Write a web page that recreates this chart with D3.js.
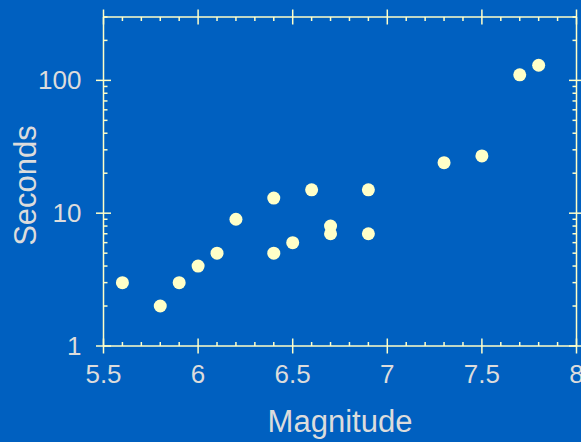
<!DOCTYPE html>
<html><head><meta charset="utf-8">
<script src="https://cdn.jsdelivr.net/npm/d3@7"></script>
<style>
html,body{margin:0;padding:0;background:#0060C0;}
svg{display:block;}
text{font-family:"Liberation Sans",Arial,sans-serif;}
</style></head>
<body>
<svg id="c" width="581" height="442"></svg>
<script>
const magnitude = [5.6,5.8,5.9,6.0,6.1,6.2,6.4,6.4,6.5,6.6,6.7,6.7,6.9,6.9,7.3,7.5,7.7,7.8];
const seconds   = [3,  2,  3,  4,  5,  9,  13, 5,  6,  15, 8,  7,  15, 7,  24, 27, 110,130];
const xTicks = [5.5,6,6.5,7,7.5,8];
const xTickLabels = ["5.5","6","6.5","7","7.5","8"];
const yTicks = [1,10,100];
const yTickLabels = ["1","10","100"];
const xTitle = "Magnitude";
const yTitle = "Seconds";

const svg = d3.select("#c");
const W=581,H=442;
const L=103.5,R=576.5,T=17,B=346;
const bg="#0060C0", axisCol="#FFFFC8", textCol="#DCDCDC", ptCol="#FFFFC8";
svg.append("rect").attr("width",W).attr("height",H).attr("fill",bg);

const x = d3.scaleLinear().domain([5.5,8]).range([L,R]);
const y = d3.scaleLog().domain([1,300]).range([B,T]);

const xMinor = d3.range(55,81).map(v=>v/10).filter(v=>!xTicks.some(t=>Math.abs(t-v)<1e-9));
const yMinor = [];
[1,10,100].forEach(d=>{for(let k=2;k<=9;k++){const v=d*k; if(v<=300) yMinor.push(v);}});

const lw=1.5, maj=7.5, mn=4;
const g = svg.append("g");

g.append("line").attr("x1",L).attr("x2",R).attr("y1",B).attr("y2",B);
g.append("line").attr("x1",L).attr("x2",R).attr("y1",T).attr("y2",T);
g.append("line").attr("x1",L).attr("x2",L).attr("y1",T).attr("y2",B);
g.append("line").attr("x1",R).attr("x2",R).attr("y1",T).attr("y2",B);

[B,T].forEach(yy=>{
  g.selectAll(null).data(xTicks).enter().append("line")
   .attr("x1",d=>x(d)).attr("x2",d=>x(d)).attr("y1",yy-maj).attr("y2",yy+maj);
});
g.selectAll(null).data(xMinor).enter().append("line")
 .attr("x1",d=>x(d)).attr("x2",d=>x(d)).attr("y1",B-mn).attr("y2",B);
g.selectAll(null).data(xMinor).enter().append("line")
 .attr("x1",d=>x(d)).attr("x2",d=>x(d)).attr("y1",T).attr("y2",T+mn);
[L,R].forEach(xx=>{
  g.selectAll(null).data(yTicks).enter().append("line")
   .attr("y1",d=>y(d)).attr("y2",d=>y(d)).attr("x1",xx-maj).attr("x2",xx+maj);
});
g.selectAll(null).data(yMinor).enter().append("line")
 .attr("y1",d=>y(d)).attr("y2",d=>y(d)).attr("x1",L).attr("x2",L+mn);
g.selectAll(null).data(yMinor).enter().append("line")
 .attr("y1",d=>y(d)).attr("y2",d=>y(d)).attr("x1",R-mn).attr("x2",R);
g.selectAll("line").attr("stroke",axisCol).attr("stroke-width",lw);

svg.selectAll(null).data(xTicks).enter().append("text")
 .attr("x",d=>x(d)).attr("y",B+37).attr("text-anchor","middle")
 .attr("font-size",26).attr("fill",textCol).text((d,i)=>xTickLabels[i]);
svg.selectAll(null).data(yTicks).enter().append("text")
 .attr("x",L-22).attr("y",d=>y(d)+9).attr("text-anchor","end")
 .attr("font-size",26).attr("fill",textCol).text((d,i)=>yTickLabels[i]);

svg.append("text").attr("x",(L+R)/2).attr("y",432).attr("text-anchor","middle")
 .attr("font-size",31).attr("fill",textCol).text(xTitle);
svg.append("text").attr("transform",`translate(35.5,${(T+B)/2+4}) rotate(-90)`)
 .attr("text-anchor","middle").attr("font-size",31).attr("fill",textCol).text(yTitle);

svg.append("g").selectAll("circle").data(magnitude).enter().append("circle")
 .attr("cx",d=>x(d)).attr("cy",(d,i)=>y(seconds[i])).attr("r",6.5).attr("fill",ptCol);
</script>
</body></html>
